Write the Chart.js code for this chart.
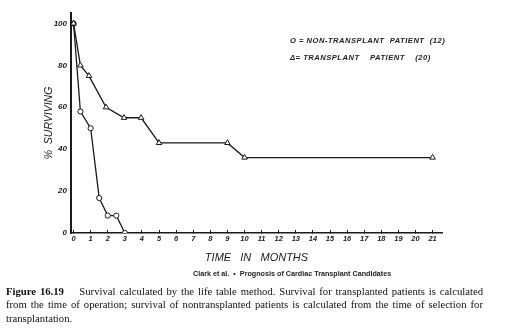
<!DOCTYPE html>
<html>
<head>
<meta charset="utf-8">
<script src="https://cdn.jsdelivr.net/npm/chart.js@4"></script>
<style>
  html, body { margin: 0; padding: 0; background: #fff; }
  #wrap { position: relative; width: 511px; height: 334px; overflow: hidden; }
  #plot { position: absolute; left: 0; top: 0; width: 511px; height: 285px; }
  .legend { position: absolute; left: 290px; font: italic bold 7.6px "Liberation Sans", sans-serif; color: #222; white-space: pre; letter-spacing: 0.5px; }
  .cite { position: absolute; left: 193px; top: 269px; font: bold 7.2px "Liberation Sans", sans-serif; color: #222; white-space: pre; }
  .caption { position: absolute; left: 6px; top: 285px; width: 477px; text-align: justify; font: 10.7px/13.3px "Liberation Serif", serif; color: #111; }
</style>
</head>
<body>
<div id="wrap">
  <div id="plot"><canvas id="survival-chart" width="511" height="285"></canvas></div>
  <div class="legend" style="top:36px">O = NON-TRANSPLANT  PATIENT  (12)</div>
  <div class="legend" style="top:53px">&#916;= TRANSPLANT    PATIENT    (20)</div>
  <div class="cite">Clark et al.  •  Prognosis of Cardiac Transplant Candidates</div>
  <div class="caption"><b>Figure 16.19</b>&nbsp;&nbsp;&nbsp; Survival calculated by the life table method. Survival for transplanted patients is calculated from the time of operation; survival of nontransplanted patients is calculated from the time of selection for transplantation.</div>
</div>
<script>
// life table survival, months vs percent
const nonTransplantMonths = [0, 0.4, 1, 1.5, 2, 2.5, 3];
const nonTransplantSurvival = [100, 58, 50, 16.7, 8.3, 8.3, 0];
const transplantMonths = [0, 0.4, 0.9, 1.9, 2.95, 3.95, 5, 9, 10, 21];
const transplantSurvival = [100, 80, 75, 60, 55, 55, 43, 43, 36, 36];
const monthTicks = [0, 1, 2, 3, 4, 5, 6, 7, 8, 9, 10, 11, 12, 13, 14, 15, 16, 17, 18, 19, 20, 21];
const percentTicks = [0, 20, 40, 60, 80, 100];

const ink = '#1a1a1a';
const toPoints = (xs, ys) => xs.map((x, i) => ({ x: x, y: ys[i] }));

const ctx = document.getElementById('survival-chart').getContext('2d');
new Chart(ctx, {
    type: 'scatter',
    data: {
        datasets: [
            {
                label: 'Transplant patient (20)',
                data: toPoints(transplantMonths, transplantSurvival),
                showLine: true,
                borderColor: ink,
                borderWidth: 1.3,
                pointStyle: 'triangle',
                pointRadius: 3.2,
                pointBorderWidth: 1,
                pointBorderColor: ink,
                pointBackgroundColor: '#fff',
                tension: 0
            },
            {
                label: 'Non-transplant patient (12)',
                data: toPoints(nonTransplantMonths, nonTransplantSurvival),
                showLine: true,
                borderColor: ink,
                borderWidth: 1.3,
                pointStyle: 'circle',
                pointRadius: 2.6,
                pointBorderWidth: 1,
                pointBorderColor: ink,
                pointBackgroundColor: c => c.dataIndex === 0 ? ink : '#fff',
                tension: 0
            }
        ]
    },
    options: {
        responsive: false,
        animation: false,
        layout: { padding: { left: 0, top: 13, right: 69, bottom: 4 } },
        plugins: {
            legend: { display: false },
            tooltip: { enabled: false }
        },
        scales: {
            x: {
                type: 'linear',
                min: -0.15,
                max: 21.55,
                afterBuildTicks: s => { s.ticks = monthTicks.map(v => ({ value: v })); },
                afterFit: s => { s.height = 48; },
                grid: { drawOnChartArea: false, drawTicks: true, tickLength: -3, color: ink, lineWidth: 1 },
                border: { color: ink, width: 1.5 },
                ticks: {
                    color: ink,
                    padding: 4,
                    maxRotation: 0,
                    autoSkip: false,
                    font: { family: "'Liberation Sans', sans-serif", size: 7.5, style: 'italic', weight: 'bold' }
                },
                title: {
                    display: true,
                    text: 'TIME   IN   MONTHS',
                    color: ink,
                    padding: { top: 0, bottom: 16 },
                    font: { family: "'Liberation Sans', sans-serif", size: 11, style: 'italic' }
                }
            },
            y: {
                min: 0,
                max: 105,
                afterBuildTicks: s => { s.ticks = percentTicks.map(v => ({ value: v })); },
                afterFit: s => { s.width = 71; },
                grid: { display: false, drawTicks: false },
                border: { color: ink, width: 2 },
                ticks: {
                    color: ink,
                    padding: 4,
                    font: { family: "'Liberation Sans', sans-serif", size: 8, style: 'italic', weight: 'bold' }
                },
                title: {
                    display: true,
                    text: '%  SURVIVING',
                    color: ink,
                    padding: { top: 43, bottom: 0 },
                    font: { family: "'Liberation Sans', sans-serif", size: 10.5, style: 'italic' }
                }
            }
        }
    }
});
</script>
</body>
</html>
